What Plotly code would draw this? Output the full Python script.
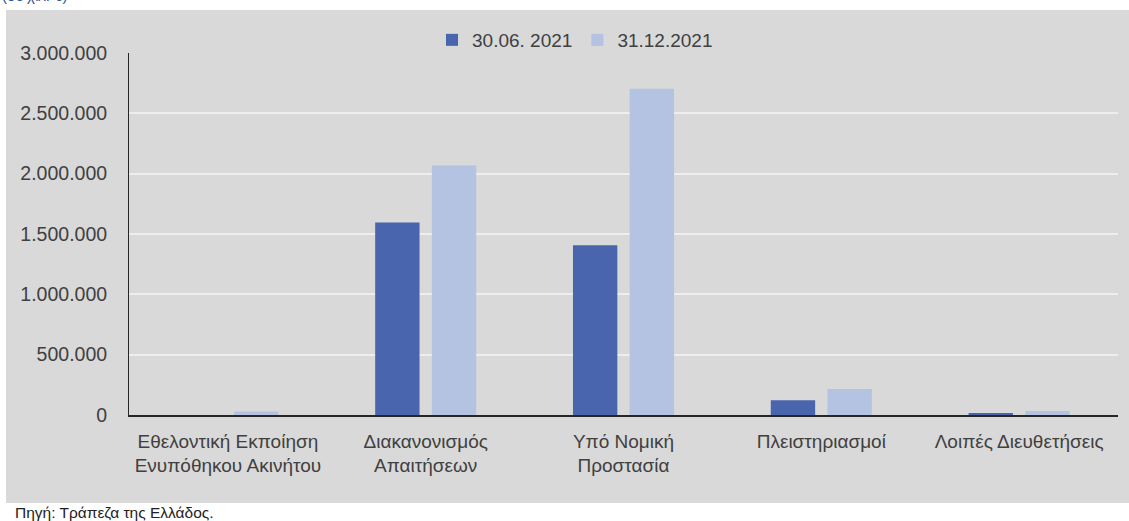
import plotly.graph_objects as go

categories = ["Εθελοντική Εκποίηση<br>Ενυπόθηκου Ακινήτου", "Διακανονισμός<br>Απαιτήσεων",
              "Υπό Νομική<br>Προστασία", "Πλειστηριασμοί", "Λοιπές Διευθετήσεις"]
series_names = ["30.06. 2021", "31.12.2021"]
values_jun = [0, 1595000, 1407000, 122000, 17000]
values_dec = [28000, 2068000, 2704000, 215000, 33000]
ytick_vals = [0, 500000, 1000000, 1500000, 2000000, 2500000, 3000000]
ytick_text = ["0", "500.000", "1.000.000", "1.500.000", "2.000.000", "2.500.000", "3.000.000"]
colors = ["#4865AD", "#B4C3E1"]

W, H = 1129, 521
L, R, T, B = 129, 11, 53, 106
pw, ph = W - L - R, H - T - B

def px_x(p):
    return (p - L) / pw

def px_y(p):
    return (H - B - p) / ph

fig = go.Figure()
for name, vals, col in zip(series_names, [values_jun, values_dec], colors):
    fig.add_trace(go.Bar(x=categories, y=vals, name=name, marker=dict(color=col, line=dict(width=0))))

font_fam = "Liberation Sans, Arial, sans-serif"
fig.update_layout(
    width=W, height=H,
    margin=dict(l=L, r=R, t=T, b=B, pad=0),
    paper_bgcolor="white",
    plot_bgcolor="#D9D9D9",
    barmode="group",
    bargap=0.427,
    bargroupgap=0.217,
    font=dict(family=font_fam, size=19, color="#404040"),
    showlegend=True,
    legend=dict(orientation="h", x=px_x(432), xanchor="left", y=px_y(40), yanchor="middle",
                bgcolor="rgba(0,0,0,0)", font=dict(size=19, color="#404040"), traceorder="normal"),
    shapes=[dict(type="rect", xref="paper", yref="paper", x0=px_x(6), x1=px_x(1140),
                 y0=px_y(503), y1=px_y(10), fillcolor="#D9D9D9", line=dict(width=0), layer="below")],
    annotations=[
        dict(text="Πηγή: Τράπεζα της Ελλάδος.", xref="paper", yref="paper", x=px_x(13), y=px_y(502),
             xanchor="left", yanchor="top", showarrow=False, font=dict(size=15.5, color="#222222")),
        dict(text="(σε χιλ. €)", xref="paper", yref="paper", x=px_x(0), y=px_y(-5),
             xanchor="left", yanchor="middle", showarrow=False, font=dict(size=15, color="#2E5597")),
    ],
)
fig.update_yaxes(range=[0, 3000000], tickvals=ytick_vals, ticktext=ytick_text, showgrid=True,
                 gridcolor="#EEEEEE", gridwidth=1.5, zeroline=False, showline=True, linecolor="#262626",
                 linewidth=1, ticks="", ticklabelstandoff=17, tickfont=dict(size=19.5), fixedrange=True)
fig.update_xaxes(showgrid=False, showline=True, linecolor="#262626", linewidth=1.5, ticks="",
                 ticklabelstandoff=8, tickfont=dict(size=19), fixedrange=True)

fig.write_html("out.html", config={"displayModeBar": False},
               post_script="document.body.style.margin='0';document.body.style.padding='0';"
                           "document.documentElement.style.overflow='hidden';")
